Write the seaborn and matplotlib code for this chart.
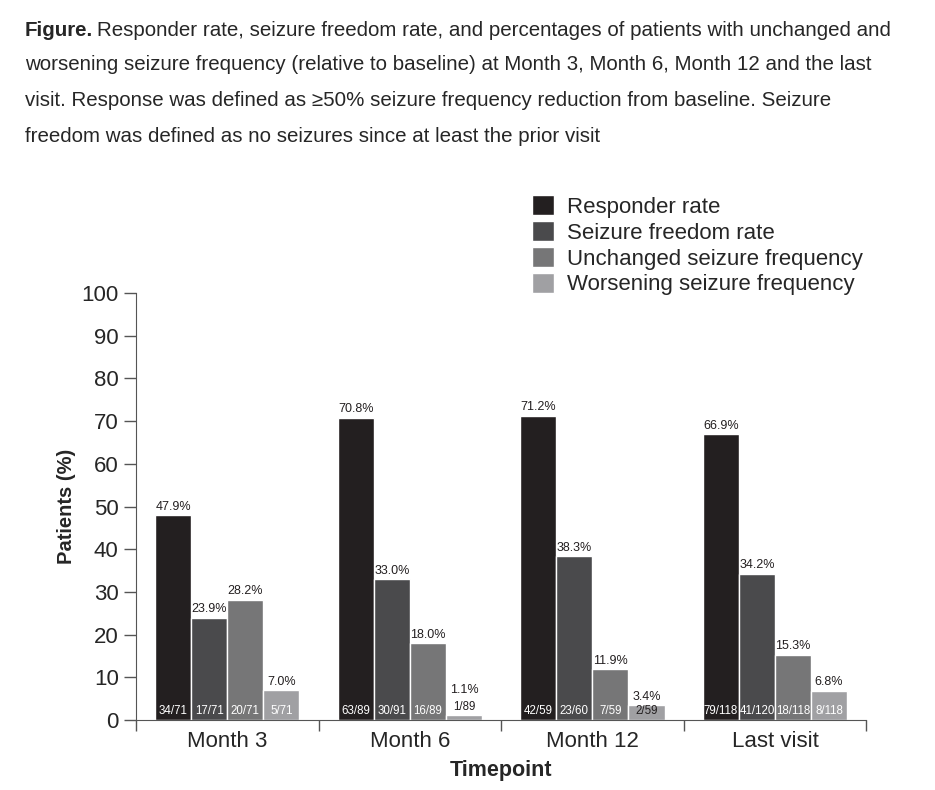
import pandas as pd
import seaborn as sns
import matplotlib.pyplot as plt

# dane
timepoints = ["Month 3", "Month 6", "Month 12", "Last visit"]
measures = ["Responder rate", "Seizure freedom rate",
            "Unchanged seizure frequency", "Worsening seizure frequency"]

responder = [47.9, 70.8, 71.2, 66.9]
freedom = [23.9, 33.0, 38.3, 34.2]
unchanged = [28.2, 18.0, 11.9, 15.3]
worsening = [7.0, 1.1, 3.4, 6.8]

responder_n = ["34/71", "63/89", "42/59", "79/118"]
freedom_n = ["17/71", "30/91", "23/60", "41/120"]
unchanged_n = ["20/71", "16/89", "7/59", "18/118"]
worsening_n = ["5/71", "1/89", "2/59", "8/118"]

colors = ["#231f20", "#4a4a4c", "#767677", "#a0a0a3"]

values = [responder, freedom, unchanged, worsening]
counts = [responder_n, freedom_n, unchanged_n, worsening_n]

rows = []
for m, vals in zip(measures, values):
    for t, v in zip(timepoints, vals):
        rows.append({"Timepoint": t, "Measure": m, "Patients": v})
df = pd.DataFrame(rows)

sns.set_style("ticks")
plt.rcParams["font.family"] = ["Liberation Sans", "DejaVu Sans"]

fig = plt.figure(figsize=(9.35, 7.90), dpi=100)
ax = fig.add_axes([0.1455, 0.0886, 0.781, 0.5405])

sns.barplot(data=df, x="Timepoint", y="Patients", hue="Measure",
            order=timepoints, hue_order=measures, palette=colors,
            saturation=1, width=0.79, ax=ax)

# etykiety na słupkach
for cont, cnt in zip(ax.containers, counts):
    for bar, lab in zip(cont.patches, cnt):
        h = bar.get_height()
        xc = bar.get_x() + bar.get_width() / 2
        if h < 2:
            ax.text(xc, h + 0.6, lab, ha="center", va="bottom", fontsize=8.3, color="#231f20")
            ax.text(xc, h + 4.6, f"{h:.1f}%", ha="center", va="bottom", fontsize=9, color="#231f20")
        else:
            col = "#231f20" if h < 5 else "white"
            ax.text(xc, 0.6, lab, ha="center", va="bottom", fontsize=8.3, color=col)
            ax.text(xc, h + 0.6, f"{h:.1f}%", ha="center", va="bottom", fontsize=9, color="#231f20")

ax.set_ylim(0, 100)
ax.set_xlim(-0.5, 3.5)
ax.set_yticks(range(0, 101, 10))
ax.tick_params(axis="y", labelsize=16, length=9, width=1, color="#555555")
ax.set_xticks([-0.5, 0.5, 1.5, 2.5, 3.5], minor=True)
ax.tick_params(axis="x", which="major", length=0, labelsize=16, pad=8)
ax.tick_params(axis="x", which="minor", length=8, width=1, color="#555555")
sns.despine(ax=ax)
for s in ["left", "bottom"]:
    ax.spines[s].set_color("#555555")

ax.set_xlabel("Timepoint", fontsize=15.5, fontweight="bold", labelpad=6)
ax.set_ylabel("Patients (%)", fontsize=14.5, fontweight="bold", labelpad=4)

ax.legend(loc="lower right", bbox_to_anchor=(1.014, 0.963), frameon=False,
          fontsize=16, handlelength=1.0, handleheight=1.0, handletextpad=0.6,
          labelspacing=0.15, borderaxespad=0.2)

# podpis rysunku
fs = 14.75
x0 = 25 / 935
bold = fig.text(x0, 1 - 30 / 790, "Figure.", fontsize=fs, fontweight="bold", va="center")
fig.canvas.draw()
bb = bold.get_window_extent()
fig.text((bb.x1 + 4) / 935, 1 - 30 / 790,
         "Responder rate, seizure freedom rate, and percentages of patients with unchanged and",
         fontsize=fs, va="center")
lines = ["worsening seizure frequency (relative to baseline) at Month 3, Month 6, Month 12 and the last",
         "visit. Response was defined as \u226550% seizure frequency reduction from baseline. Seizure",
         "freedom was defined as no seizures since at least the prior visit"]
for i, line in enumerate(lines):
    fig.text(x0, 1 - (65 + 35.5 * i) / 790, line, fontsize=fs, va="center")

plt.savefig("out.png", dpi=100)
